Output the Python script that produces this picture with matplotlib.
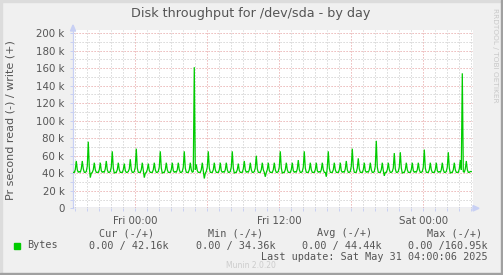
import matplotlib
matplotlib.use("Agg")
import matplotlib.pyplot as plt
import matplotlib.dates as mdates
from matplotlib.patches import Rectangle, Polygon
import numpy as np
import pandas as pd

# ---------------- data (write throughput, k bytes/s, 5-minute samples) -------------
series_start = "2025-05-29 18:50"
step = "5min"
write_k = [
    41, 41, 44, 54, 44, 41,  42, 41, 45, 54, 45, 41,
    41, 42, 48, 76, 47, 35,  40, 41, 44, 52, 44, 41,
    41, 41, 44, 52, 43, 41,  42, 41, 45, 54, 44, 41,
    41, 42, 47, 65, 46, 40,  41, 41, 44, 52, 44, 41,
    41, 41, 44, 51, 43, 41,  41, 42, 45, 56, 44, 41,
    41, 42, 47, 68, 46, 41,  41, 41, 44, 52, 43, 35,
    40, 41, 44, 51, 43, 41,  41, 41, 44, 52, 44, 41,
    41, 42, 47, 65, 46, 40,  41, 41, 44, 52, 44, 41,
    41, 41, 44, 52, 43, 41,  42, 41, 44, 52, 44, 41,
    41, 42, 47, 65, 46, 41,  41, 41, 44, 52, 44, 41,
    42, 161, 44, 50, 43, 41, 41, 41, 44, 52, 43, 34,
    40, 42, 47, 65, 46, 41,  41, 41, 44, 52, 44, 41,
    41, 41, 44, 52, 43, 41,  42, 41, 44, 52, 44, 41,
    41, 42, 47, 65, 46, 40,  41, 41, 44, 51, 43, 41,
    41, 41, 45, 54, 44, 41,  42, 41, 44, 52, 44, 41,
    41, 42, 46, 60, 45, 41,  41, 41, 44, 52, 44, 41,
    36, 41, 44, 52, 43, 41,  41, 41, 44, 52, 44, 41,
    41, 42, 47, 65, 46, 40,  41, 41, 44, 52, 44, 41,
    41, 41, 44, 52, 43, 41,  42, 41, 45, 55, 44, 41,
    41, 42, 47, 65, 46, 41,  41, 41, 44, 52, 44, 41,
    41, 41, 44, 52, 43, 41,  42, 41, 44, 52, 44, 41,
    41, 36, 47, 65, 46, 41,  41, 41, 44, 52, 44, 41,
    41, 41, 44, 52, 43, 41,  42, 41, 45, 54, 44, 41,
    41, 42, 48, 68, 47, 41,  41, 41, 46, 57, 45, 41,
    41, 41, 44, 52, 43, 41,  42, 41, 44, 52, 44, 41,
    41, 42, 48, 77, 47, 41,  41, 41, 44, 52, 43, 37,
    41, 41, 44, 52, 44, 41,  41, 42, 46, 63, 45, 41,
    41, 42, 47, 64, 46, 40,  41, 41, 44, 52, 44, 41,
    41, 41, 44, 52, 43, 41,  42, 41, 44, 52, 44, 41,
    41, 42, 47, 67, 46, 41,  41, 41, 44, 52, 44, 41,
    41, 41, 44, 52, 43, 41,  42, 41, 44, 52, 44, 41,
    41, 42, 47, 64, 46, 40,  41, 41, 44, 52, 44, 41,
    41, 41, 45, 55, 44, 154, 42, 41, 45, 54, 44, 41,
    41, 42, 42,
]
read_k = [0] * len(write_k)

x_tick_times = ["2025-05-30 00:00", "2025-05-30 06:00", "2025-05-30 12:00",
                "2025-05-30 18:00", "2025-05-31 00:00"]
x_tick_labels = ["Fri 00:00", "", "Fri 12:00", "", "Sat 00:00"]
y_tick_values = [0, 20000, 40000, 60000, 80000, 100000, 120000, 140000, 160000, 180000, 200000]
y_tick_labels = ["0", "20 k", "40 k", "60 k", "80 k", "100 k", "120 k", "140 k", "160 k", "180 k", "200 k"]

title = "Disk throughput for /dev/sda - by day"
ylabel = "Pr second read (-) / write (+)"
legend_name = "Bytes"
stat_headers = ["Cur (-/+)", "Min (-/+)", "Avg (-/+)", "Max (-/+)"]
stat_values = ["0.00 / 42.16k", "0.00 / 34.36k", "0.00 / 44.44k", "0.00 /160.95k"]
last_update = "Last update: Sat May 31 04:00:06 2025"
footer = "Munin 2.0.20"
side_text = "RRDTOOL / TOBI OETIKER"

# ---------------- figure -------------------------------------------------------
W, H = 503, 275
fig = plt.figure(figsize=(W / 100, H / 100), dpi=100, facecolor="#F0F0F0")

def fx(px):
    return px / W

def fy(py):
    return 1 - py / H

ax_l, ax_r, ax_t, ax_b = 73, 473, 30, 208.3
ax = fig.add_axes([fx(ax_l), fy(ax_b), (ax_r - ax_l) / W, (ax_b - ax_t) / H])
ax.set_facecolor("white")

times = pd.date_range(series_start, periods=len(write_k), freq=step)
write = np.array(write_k) * 1000.0
ax.plot(times, write, color="#00CC00", lw=0.9, solid_joinstyle="miter", zorder=5)
ax.plot(times, np.array(read_k) * 1000.0, color="#7f7f9f", lw=0.9, zorder=6)

ymax = 200000 * (ax_b - ax_t) / (ax_b - 33.0)
ax.set_ylim(0, ymax)
ax.set_xlim(pd.Timestamp("2025-05-29 18:48:36"), pd.Timestamp("2025-05-31 04:08:30"))

ax.set_yticks(y_tick_values)
ax.set_yticklabels(y_tick_labels)
ax.set_yticks(np.arange(10000, 200000, 20000), minor=True)
ax.set_xticks(pd.to_datetime(x_tick_times))
ax.set_xticklabels(x_tick_labels)
ax.xaxis.set_minor_locator(mdates.HourLocator(interval=1))

dash = (0, (1.2, 1.8))
ax.grid(which="minor", color="#CFCFCF", lw=0.72, linestyle=dash, zorder=1)
ax.grid(which="major", color="#E8A8A8", lw=0.72, linestyle=dash, zorder=2)
ax.set_axisbelow(True)

for s in ["top", "right", "bottom"]:
    ax.spines[s].set_visible(False)
ax.spines["left"].set_color("#C8D0F4")
ax.spines["left"].set_linewidth(0.9)

ax.tick_params(axis="both", which="both", colors="#C8D0F4", labelcolor="#555555",
               labelsize=7.4, length=2, width=0.7)
ax.tick_params(axis="y", pad=4.2)
ax.tick_params(axis="x", pad=3.4)

# axis arrows
fig.patches.append(Polygon([[fx(70.5), fy(31)], [fx(75.5), fy(31)], [fx(73), fy(25)]],
                           closed=True, transform=fig.transFigure, color="#C8D0F4"))
fig.patches.append(Polygon([[fx(473), fy(205.5)], [fx(473), fy(211)], [fx(479), fy(208.3)]],
                           closed=True, transform=fig.transFigure, color="#C8D0F4"))

# texts
fig.text(fx(251), fy(13.5), title, ha="center", va="center", fontsize=9.2, color="#555555")
fig.text(fx(11), fy(120), ylabel, ha="center", va="center", rotation=90, fontsize=8,
         color="#555555")
fig.text(fx(494.5), fy(55), side_text, ha="center", va="center", rotation=270,
         fontsize=5.3, color="#C8C8C8")

mono = "DejaVu Sans Mono"
fs = 7.3
col_x = [127, 236, 345, 455]
for x, t in zip(col_x, stat_headers):
    fig.text(fx(x), fy(233.5), t, ha="center", va="center", family=mono, fontsize=fs,
             color="#555555")
val_right = [169, 276, 382, 488]
for x, t in zip(val_right, stat_values):
    fig.text(fx(x), fy(245.5), t, ha="right", va="center", family=mono, fontsize=fs,
             color="#555555")
fig.patches.append(Rectangle((fx(14), fy(248.7)), 5.5 / W, 5.5 / H,
                             transform=fig.transFigure, color="#00CC00"))
fig.text(fx(27), fy(245.5), legend_name, ha="left", va="center", family=mono,
         fontsize=fs, color="#555555")
fig.text(fx(488), fy(257), last_update, ha="right", va="center", family=mono,
         fontsize=fs, color="#555555")
fig.text(fx(251), fy(265), footer, ha="center", va="center", fontsize=5.5,
         color="#CCCCCC")

# frame (light top/left, dark bottom/right)
fig.patches.append(Rectangle((0, 1 - 2 / H), 1, 2 / H, transform=fig.transFigure,
                             color="#DCDCDC"))
fig.patches.append(Rectangle((0, 0), 2 / W, 1, transform=fig.transFigure,
                             color="#DCDCDC"))
fig.patches.append(Rectangle((0, 0), 1, 2.5 / H, transform=fig.transFigure,
                             color="#A0A0A0"))
fig.patches.append(Rectangle((1 - 2.5 / W, 0), 2.5 / W, 1, transform=fig.transFigure,
                             color="#A0A0A0"))

fig.savefig("out.png", dpi=100, facecolor=fig.get_facecolor())
